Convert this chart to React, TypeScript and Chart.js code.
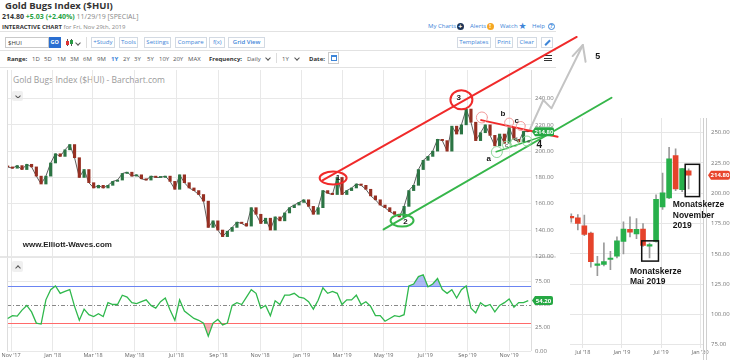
import React, { useEffect, useRef } from 'react';
import { Chart, registerables } from 'chart.js';

Chart.register(...registerables);

// ---------------- data: Gold Bugs Index, daily chart read at weekly steps ----------------
const weekEnding = [
  '2017-10-27','2017-11-03','2017-11-10','2017-11-17','2017-11-24','2017-12-01','2017-12-08','2017-12-15','2017-12-22','2017-12-29',
  '2018-01-05','2018-01-12','2018-01-19','2018-01-26','2018-02-02','2018-02-09','2018-02-16','2018-02-23','2018-03-02','2018-03-09',
  '2018-03-16','2018-03-23','2018-03-30','2018-04-06','2018-04-13','2018-04-20','2018-04-27','2018-05-04','2018-05-11','2018-05-18',
  '2018-05-25','2018-06-01','2018-06-08','2018-06-15','2018-06-22','2018-06-29','2018-07-06','2018-07-13','2018-07-20','2018-07-27',
  '2018-08-03','2018-08-10','2018-08-17','2018-08-24','2018-08-31','2018-09-07','2018-09-14','2018-09-21','2018-09-28','2018-10-05',
  '2018-10-12','2018-10-19','2018-10-26','2018-11-02','2018-11-09','2018-11-16','2018-11-23','2018-11-30','2018-12-07','2018-12-14',
  '2018-12-21','2018-12-28','2019-01-04','2019-01-11','2019-01-18','2019-01-25','2019-02-01','2019-02-08','2019-02-15','2019-02-22',
  '2019-03-01','2019-03-08','2019-03-15','2019-03-22','2019-03-29','2019-04-05','2019-04-12','2019-04-19','2019-04-26','2019-05-03',
  '2019-05-10','2019-05-17','2019-05-24','2019-05-31','2019-06-07','2019-06-14','2019-06-21','2019-06-28','2019-07-05','2019-07-12',
  '2019-07-19','2019-07-26','2019-08-02','2019-08-09','2019-08-16','2019-08-23','2019-08-30','2019-09-06','2019-09-13','2019-09-20',
  '2019-09-27','2019-10-04','2019-10-11','2019-10-18','2019-10-25','2019-11-01','2019-11-08','2019-11-15','2019-11-22','2019-11-29',
];
const firstOpen = 188.5;
const closes = [
  188, 187, 189, 186, 190, 188, 181, 175, 181, 191,
  198, 196, 201, 205, 195, 180, 186, 176, 172, 174,
  172, 174, 177, 178, 183, 184, 181, 182, 179, 178,
  181, 180, 180, 181, 177, 171, 182, 176, 172, 170,
  167, 162, 142, 147, 140, 135, 139, 142, 146, 145,
  143, 157, 152, 145, 149, 140, 150, 147, 153, 157,
  159, 161, 163, 158, 152, 157, 170, 168, 167, 180,
  167, 170, 172, 175, 174, 171, 166, 163, 159, 157,
  154, 152, 150, 158, 170, 174, 186, 193, 196, 200,
  209, 208, 200, 219, 213, 220, 232, 222, 208, 214,
  220, 212, 204, 213, 206, 218, 209, 207, 215, 214.8,
];
const rsi = [
  35, 38, 37.5, 44, 49, 42, 30, 29, 55, 66,
  70, 62, 64, 66, 48, 33, 45, 39, 37, 40,
  37, 52, 50, 50, 60, 58, 52, 51, 53, 55,
  49, 46, 53, 57, 44, 33, 55, 43, 39, 35,
  33, 30, 16, 30, 34, 28, 30, 49, 52, 50,
  58, 66, 62, 46, 49, 38, 54, 50, 60, 60,
  62, 58, 57, 53, 45, 54.6, 68, 62, 64, 62,
  50, 55, 55, 60, 50, 53, 48, 38, 38, 32,
  35, 38, 37, 39, 70, 72, 80, 82, 69, 72,
  78, 66, 62, 66, 57, 66, 70, 46, 41, 52,
  48, 50, 42, 49, 52, 56, 47, 52, 52, 54.2,
];
const lastPrice = 214.8;
const lastRsi = 54.2;
const rsiOverbought = 70;
const rsiMid = 50;
const rsiOversold = 30;

const monthTickDates = ['2017-11-01','2018-01-01','2018-03-01','2018-05-01','2018-07-01','2018-09-01','2018-11-01','2019-01-01','2019-03-01','2019-05-01','2019-07-01','2019-09-01','2019-11-01'];
const monthTickLabels = ["Nov '17","Jan '18","Mar '18","May '18","Jul '18","Sep '18","Nov '18","Jan '19","Mar '19","May '19","Jul '19","Sep '19","Nov '19"];
const priceTicks = [120, 140, 160, 180, 200, 220, 240];
const rsiTicks = [0, 25, 50, 75];
const xRange = ['2017-10-26', '2019-12-03'];
const priceRange = [119.5, 261.7];

// ---------------- monthly inset ----------------
const months = ['2018-05','2018-06','2018-07','2018-08','2018-09','2018-10','2018-11','2018-12','2019-01','2019-02','2019-03','2019-04','2019-05','2019-06','2019-07','2019-08','2019-09','2019-10','2019-11'];
const mOpen  = [181, 179.7, 173, 167, 140.5, 141.3, 145.3, 148, 160.2, 170.2, 166.4, 170.5, 156.4, 160.2, 188.6, 196, 231, 203, 218.4];
const mClose = [179.5, 175, 166, 143.5, 141.5, 143.5, 146, 160.7, 170.5, 167.8, 170.2, 157, 157.5, 195, 200.2, 228.4, 203.5, 220.2, 214.8];
const mHigh  = [183, 182.4, 182, 168, 148, 159, 152, 164, 176.4, 180.5, 179, 175, 158.8, 198.6, 216.5, 237.8, 236.5, 220.5, 220];
const mLow   = [176, 169.7, 165, 139, 132, 140, 137, 146.7, 150, 164, 162.4, 156, 146.7, 159.5, 186.7, 195.5, 202, 201.3, 203.5];
const insetTickDates = ['2018-07-01','2019-01-01','2019-07-01','2020-01-01'];
const insetTickLabels = ["Jul '18","Jan '19","Jul '19","Jan '20"];
const insetPriceTicks = [75, 100, 125, 150, 175, 200, 225, 250];
const insetXRange = ['2018-05-02', '2020-01-14'];
const insetPriceRange = [72, 262];

// ---------------- Elliott wave annotations (data coordinates) ----------------
const redChannel = [['2019-02-01', 178], ['2020-02-08', 286.8]];
const greenChannel = [['2019-05-01', 140.5], ['2020-03-30', 240.6]];
const redTriangle = [['2019-09-21', 223.6], ['2020-01-11', 211]];
const greenTriangle = [['2019-10-13', 199.5], ['2020-01-02', 213.5]];
const forecastPath = [['2019-12-01', 216], ['2019-12-21', 238.9], ['2020-01-02', 232.5], ['2020-02-17', 280.7]];
const forecastHead = [['2020-02-02', 272.3], ['2020-02-17', 280.7], ['2020-02-21', 268]];
const waveRings = [['2019-02-16', 179.5], ['2019-08-23', 239.1], ['2019-05-28', 147.2]];
const smallRedRings = [['2019-09-22', 225.6], ['2019-11-01', 221.7], ['2019-11-18', 219.1]];
const smallGreenRings = [['2019-10-14', 199.3], ['2019-10-28', 204.6], ['2019-11-09', 206.5], ['2019-11-27', 207.7]];
const waveText = ['1', '2', '3', 'a', 'b', 'c', '4', '5'];
const waveTextAt = [['2019-02-23', 179.5], ['2019-06-02', 146.1], ['2019-08-19', 240.4], ['2019-10-02', 194], ['2019-10-23', 228.2], ['2019-11-12', 222.9], ['2019-12-15', 204.6], ['2020-03-10', 271.6]];
const minorText = ['c', 'd', 'e'];
const minorTextAt = [['2019-10-28', 204.6], ['2019-11-11', 209.2], ['2019-11-30', 207.7]];
const watermark = 'www.Elliott-Waves.com';
const watermarkAt = ['2017-11-18', 128.6];
const insetBoxes = [[['2019-04-02', 160.7], ['2019-06-19', 144]], [['2019-10-22', 223.8], ['2019-12-28', 197.2]]];
const insetNotes = [['Monatskerze', 'Mai 2019'], ['Monatskerze', 'November', '2019']];
const insetNotesAt = [[['2019-02-08', 135.6], ['2019-02-08', 127.4]], [['2019-08-25', 190.5], ['2019-08-25', 181.3], ['2019-08-25', 173.2]]];

// ---------------- helpers ----------------
const toDay = (s: string) => {
  const [y, m, d] = s.split('-').map(Number);
  return Math.round((Date.UTC(y, m - 1, d || 1) - Date.UTC(2017, 9, 1)) / 86400000);
};
const toMonth = (s: string) => {
  const [y, m, d] = s.split('-').map(Number);
  return (y - 2018) * 12 + (m - 1) + ((d || 1) - 1) / 30;
};

const F = '"Open Sans", "DejaVu Sans", sans-serif';
const A = '"Liberation Sans", Arial, sans-serif';
const BLUE = '#3d85d8';

function tag(ctx: CanvasRenderingContext2D, x: number, y: number, w: number, h: number, bg: string, text: string) {
  ctx.save();
  ctx.fillStyle = bg;
  ctx.beginPath();
  ctx.moveTo(x + 3, y - h / 2);
  ctx.lineTo(x + w - 2, y - h / 2);
  ctx.quadraticCurveTo(x + w, y - h / 2, x + w, y - h / 2 + 2);
  ctx.lineTo(x + w, y + h / 2 - 2);
  ctx.quadraticCurveTo(x + w, y + h / 2, x + w - 2, y + h / 2);
  ctx.lineTo(x + 3, y + h / 2);
  ctx.lineTo(x, y);
  ctx.closePath();
  ctx.fill();
  ctx.fillStyle = '#fff';
  ctx.font = `bold 6px ${F}`;
  ctx.textAlign = 'center';
  ctx.textBaseline = 'middle';
  ctx.fillText(text, x + w / 2 + 1, y + 0.5);
  ctx.restore();
}

const mainOverlay = {
  id: 'mainOverlay',
  afterDatasetsDraw(chart: any) {
    const { ctx, chartArea: a, scales } = chart;
    const X = (d: string) => scales.x.getPixelForValue(toDay(d));
    const Y = (p: number) => scales.y.getPixelForValue(p);
    ctx.save();
    ctx.strokeStyle = '#dddddd';
    ctx.lineWidth = 1;
    ctx.beginPath();
    ctx.moveTo(a.left + 0.5, a.top); ctx.lineTo(a.left + 0.5, a.bottom);
    ctx.moveTo(a.right + 0.5, a.top); ctx.lineTo(a.right + 0.5, a.bottom);
    ctx.stroke();

    const poly = (pts: any[], color: string, w: number) => {
      ctx.strokeStyle = color; ctx.lineWidth = w; ctx.lineJoin = 'round'; ctx.lineCap = 'round';
      ctx.beginPath();
      pts.forEach(([d, p]: any, k: number) => (k ? ctx.lineTo(X(d), Y(p)) : ctx.moveTo(X(d), Y(p))));
      ctx.stroke();
    };
    poly(forecastPath, '#c4c4c4', 2);
    poly(forecastHead, '#c4c4c4', 2);
    poly(redChannel, '#f02a2a', 2);
    poly(greenChannel, '#36b64a', 2);
    poly(redTriangle, '#f02a2a', 2);
    poly(greenTriangle, '#36b64a', 1.5);

    const ringSize = [[13.5, 6.5], [11, 9.5], [11.5, 6]];
    const ringColor = ['#f02a2a', '#f02a2a', '#36b64a'];
    waveRings.forEach(([d, p]: any, k) => {
      ctx.strokeStyle = ringColor[k]; ctx.lineWidth = 2;
      ctx.beginPath();
      ctx.ellipse(X(d), Y(p), ringSize[k][0], ringSize[k][1], 0, 0, Math.PI * 2);
      ctx.stroke();
    });
    const smallR = [5.5, 4.5, 4.5];
    smallRedRings.forEach(([d, p]: any, k) => {
      ctx.strokeStyle = '#f19a9a'; ctx.lineWidth = 1;
      ctx.beginPath(); ctx.arc(X(d), Y(p), smallR[k], 0, Math.PI * 2); ctx.stroke();
    });
    const smallG = [5.5, 4, 4, 5];
    smallGreenRings.forEach(([d, p]: any, k) => {
      ctx.strokeStyle = '#8fd69a'; ctx.lineWidth = 1;
      ctx.beginPath(); ctx.arc(X(d), Y(p), smallG[k], 0, Math.PI * 2); ctx.stroke();
    });

    ctx.fillStyle = '#1a1a1a';
    ctx.textAlign = 'center';
    ctx.textBaseline = 'middle';
    waveText.forEach((t, k) => {
      const [d, p] = waveTextAt[k] as any;
      ctx.font = `bold ${t === '4' ? 10 : t === '5' ? 9 : 8}px ${A}`;
      ctx.fillText(t, X(d), Y(p));
    });
    ctx.font = `6px ${A}`;
    ctx.fillStyle = '#333';
    minorText.forEach((t, k) => {
      const [d, p] = minorTextAt[k] as any;
      ctx.fillText(t, X(d), Y(p));
    });
    ctx.font = `bold 8px ${A}`;
    ctx.fillStyle = '#1e1e1e';
    ctx.textAlign = 'left';
    ctx.fillText(watermark, X(watermarkAt[0] as string), Y(watermarkAt[1] as number));

    tag(ctx, a.right + 1, Y(lastPrice), 22, 9, '#27a844', lastPrice.toFixed(2));
    ctx.restore();
  },
};

const rsiOverlay = {
  id: 'rsiOverlay',
  beforeDatasetsDraw(chart: any) {
    const { ctx, chartArea: a, scales } = chart;
    const Y = (v: number) => Math.round(scales.y.getPixelForValue(v)) + 0.5;
    ctx.save();
    ctx.lineWidth = 1;
    ctx.strokeStyle = '#6b84f2';
    ctx.beginPath(); ctx.moveTo(a.left, Y(rsiOverbought)); ctx.lineTo(a.right, Y(rsiOverbought)); ctx.stroke();
    ctx.strokeStyle = '#ff6a6a';
    ctx.beginPath(); ctx.moveTo(a.left, Y(rsiOversold)); ctx.lineTo(a.right, Y(rsiOversold)); ctx.stroke();
    ctx.strokeStyle = '#888';
    ctx.setLineDash([4, 2, 1, 2]);
    ctx.beginPath(); ctx.moveTo(a.left, Y(rsiMid)); ctx.lineTo(a.right, Y(rsiMid)); ctx.stroke();
    ctx.setLineDash([]);
    ctx.strokeStyle = '#dddddd';
    ctx.beginPath();
    ctx.moveTo(a.left + 0.5, a.top); ctx.lineTo(a.left + 0.5, a.bottom);
    ctx.moveTo(a.right + 0.5, a.top); ctx.lineTo(a.right + 0.5, a.bottom);
    ctx.stroke();
    ctx.restore();
  },
  afterDatasetsDraw(chart: any) {
    const { ctx, chartArea: a, scales } = chart;
    tag(ctx, a.right + 1, scales.y.getPixelForValue(lastRsi), 21, 9, '#27a844', lastRsi.toFixed(2));
  },
};

const insetOverlay = {
  id: 'insetOverlay',
  afterDatasetsDraw(chart: any) {
    const { ctx, chartArea: a, scales } = chart;
    const X = (d: string) => scales.x.getPixelForValue(toMonth(d));
    const Y = (p: number) => scales.y.getPixelForValue(p);
    ctx.save();
    ctx.strokeStyle = '#cfcfcf';
    ctx.lineWidth = 1;
    ctx.beginPath();
    ctx.moveTo(a.right + 0.5, a.top); ctx.lineTo(a.right + 0.5, 360);
    ctx.moveTo(a.right + 3.5, a.top); ctx.lineTo(a.right + 3.5, 360);
    ctx.stroke();
    ctx.strokeStyle = '#111';
    ctx.lineWidth = 1.5;
    insetBoxes.forEach(([[d1, p1], [d2, p2]]: any) => {
      ctx.strokeRect(X(d1), Y(p1), X(d2) - X(d1), Y(p2) - Y(p1));
    });
    ctx.fillStyle = '#151515';
    ctx.font = `bold 8.5px ${A}`;
    ctx.textAlign = 'left';
    ctx.textBaseline = 'middle';
    insetNotes.forEach((lines, k) => {
      lines.forEach((t, j) => {
        const [d, p] = insetNotesAt[k][j] as any;
        ctx.fillText(t, X(d), Y(p));
      });
    });
    tag(ctx, a.right + 5, Y(lastPrice), 22, 9, '#e8452c', lastPrice.toFixed(2));
    ctx.restore();
  },
};

function T({ x, base, size, children, color = '#333', weight = 400, family = F }: any) {
  return (
    <div style={{ position: 'absolute', left: x, top: base - 0.888 * size, fontFamily: family, fontSize: size, lineHeight: `${size}px`, fontWeight: weight, color, whiteSpace: 'nowrap' }}>
      {children}
    </div>
  );
}
function HLine({ y, x0 = 0, x1 = 556, color = '#e2e2e2', h = 1 }: any) {
  return <div style={{ position: 'absolute', left: x0, top: y, width: x1 - x0, height: h, background: color }} />;
}
function Chevron({ x, y, up = false, color = '#555' }: any) {
  return <div style={{ position: 'absolute', left: x, top: y, width: 3, height: 3, borderRight: `1px solid ${color}`, borderBottom: `1px solid ${color}`, transform: `rotate(${up ? -135 : 45}deg)` }} />;
}
function Btn({ x0, x1, label, weight = 400 }: any) {
  return (
    <div style={{ position: 'absolute', left: x0, top: 36.5, width: x1 - x0, height: 11.5, boxSizing: 'border-box', border: '1px solid #d3dae3', background: '#fff', display: 'flex', alignItems: 'center', justifyContent: 'center', fontFamily: F, fontSize: 6, fontWeight: weight, color: BLUE, whiteSpace: 'nowrap' }}>
      {label}
    </div>
  );
}

const buttons = [['+Study', 90.7, 115], ['Tools', 119, 138], ['Settings', 143.7, 171.3], ['Compare', 174.7, 206.7], ['f(x)', 209.3, 225.3], ['Grid View', 228.3, 265], ['Templates', 456.7, 490.7], ['Print', 494.7, 513.3], ['Clear', 516.7, 536.7]];
const ranges = [['1D', 32], ['5D', 44], ['1M', 57], ['3M', 70], ['6M', 83], ['9M', 97], ['1Y', 111], ['2Y', 123], ['3Y', 134], ['5Y', 147], ['10Y', 159], ['20Y', 173], ['MAX', 188]];

export default function App() {
  const priceRef = useRef<HTMLCanvasElement>(null);
  const rsiRef = useRef<HTMLCanvasElement>(null);
  const insetRef = useRef<HTMLCanvasElement>(null);

  useEffect(() => {
    const days = weekEnding.map(toDay);
    const opens = closes.map((c, i) => (i === 0 ? firstOpen : closes[i - 1]));
    const tickDays = monthTickDates.map(toDay);
    const tickFont = { size: 6, family: F };

    const priceChart = new Chart(priceRef.current as HTMLCanvasElement, {
      type: 'bar',
      data: {
        datasets: [
          {
            data: days.map((d, i) => ({ x: d, y: [opens[i], closes[i]] })) as any,
            backgroundColor: closes.map((c, i) => (c >= opens[i] ? '#2b7443' : '#962f22')),
            barThickness: 2.5,
            minBarLength: 1,
            grouped: false,
            order: 1,
          } as any,
          {
            type: 'line',
            data: days.map((d, i) => ({ x: d, y: closes[i] })),
            borderColor: 'rgba(40,40,40,0.75)',
            borderWidth: 1,
            pointRadius: 0,
            tension: 0,
            order: 2,
          } as any,
        ],
      },
      options: {
        animation: false,
        responsive: false,
        devicePixelRatio: 1,
        layout: { padding: { left: 7, top: 70, right: 172, bottom: 103 } },
        plugins: { legend: { display: false }, tooltip: { enabled: false } },
        scales: {
          x: {
            type: 'linear', min: toDay(xRange[0]), max: toDay(xRange[1]), offset: false,
            grid: { color: '#e8e8e8', offset: false, drawTicks: false }, border: { display: false },
            ticks: { display: false },
            afterBuildTicks: (s: any) => { s.ticks = tickDays.map((v) => ({ value: v })); },
            afterFit: (s: any) => { s.height = 0; },
          },
          y: {
            position: 'right', min: priceRange[0], max: priceRange[1],
            grid: { color: '#e8e8e8', drawTicks: false }, border: { display: false },
            ticks: { color: '#777', font: tickFont, padding: 4, callback: (v: any) => Number(v).toFixed(2) },
            afterBuildTicks: (s: any) => { s.ticks = priceTicks.map((v) => ({ value: v })); },
            afterFit: (s: any) => { s.width = 28; },
          },
        } as any,
      },
      plugins: [mainOverlay],
    });

    const rsiPts = days.map((d, i) => ({ x: d, y: rsi[i] }));
    const rsiChart = new Chart(rsiRef.current as HTMLCanvasElement, {
      type: 'line',
      data: {
        datasets: [
          {
            data: rsiPts, borderColor: '#2fb84c', borderWidth: 1.3, pointRadius: 0, tension: 0,
            fill: { target: { value: rsiOverbought }, above: 'rgba(120,142,238,0.6)', below: 'rgba(0,0,0,0)' },
            order: 1,
          } as any,
          {
            data: rsiPts, borderColor: 'rgba(0,0,0,0)', borderWidth: 0, pointRadius: 0, tension: 0,
            fill: { target: { value: rsiOversold }, above: 'rgba(0,0,0,0)', below: 'rgba(240,110,120,0.55)' },
            order: 2,
          } as any,
        ],
      },
      options: {
        animation: false,
        responsive: false,
        devicePixelRatio: 1,
        layout: { padding: { left: 7, top: 258, right: 172, bottom: 0 } },
        plugins: { legend: { display: false }, tooltip: { enabled: false } },
        scales: {
          x: {
            type: 'linear', min: toDay(xRange[0]), max: toDay(xRange[1]),
            grid: { color: '#e8e8e8', drawTicks: false }, border: { display: false },
            ticks: { color: '#666', font: { size: 5.5, family: F }, padding: 1, autoSkip: false, maxRotation: 0, minRotation: 0, callback: (v: any, i: number) => monthTickLabels[i] },
            afterBuildTicks: (s: any) => { s.ticks = tickDays.map((v) => ({ value: v })); },
            afterFit: (s: any) => { s.height = 9; },
          },
          y: {
            position: 'right', min: 0, max: 100,
            grid: { color: (c: any) => (c.tick && c.tick.value === rsiMid ? 'rgba(0,0,0,0)' : '#e8e8e8'), drawTicks: false }, border: { display: false },
            ticks: { color: '#777', font: tickFont, padding: 4, callback: (v: any) => Number(v).toFixed(2) },
            afterBuildTicks: (s: any) => { s.ticks = rsiTicks.map((v) => ({ value: v })); },
            afterFit: (s: any) => { s.width = 28; },
          },
        } as any,
      },
      plugins: [rsiOverlay],
    });

    const mPos = months.map((m) => toMonth(m + '-08'));
    const insetTicks = insetTickDates.map(toMonth);
    const insetChart = new Chart(insetRef.current as HTMLCanvasElement, {
      type: 'bar',
      data: {
        datasets: [
          {
            data: mPos.map((x, i) => ({ x, y: [mOpen[i], mClose[i]] })) as any,
            backgroundColor: mClose.map((c, i) => (c >= mOpen[i] ? '#27b04b' : '#e5432b')),
            barThickness: 5, minBarLength: 1.5, grouped: false, order: 1,
          } as any,
          {
            data: mPos.map((x, i) => ({ x, y: [mLow[i], mHigh[i]] })) as any,
            backgroundColor: '#9a9a9a',
            barThickness: 1, grouped: false, order: 2,
          } as any,
        ],
      },
      options: {
        animation: false,
        responsive: false,
        devicePixelRatio: 1,
        layout: { padding: { left: 570, top: 118, right: 0, bottom: 0 } },
        plugins: { legend: { display: false }, tooltip: { enabled: false } },
        scales: {
          x: {
            type: 'linear', min: toMonth(insetXRange[0]), max: toMonth(insetXRange[1]), offset: false,
            grid: { color: '#e6e6e6', offset: false, drawTicks: false }, border: { display: false },
            ticks: { color: '#666', font: { size: 5.5, family: F }, padding: 1, autoSkip: false, maxRotation: 0, minRotation: 0, callback: (v: any, i: number) => insetTickLabels[i] },
            afterBuildTicks: (s: any) => { s.ticks = insetTicks.map((v) => ({ value: v })); },
            afterFit: (s: any) => { s.height = 8; },
          },
          y: {
            position: 'right', min: insetPriceRange[0], max: insetPriceRange[1],
            grid: { color: '#e6e6e6', drawTicks: false }, border: { display: false },
            ticks: { color: '#777', font: tickFont, padding: 8, callback: (v: any) => Number(v).toFixed(2) },
            afterBuildTicks: (s: any) => { s.ticks = insetPriceTicks.map((v) => ({ value: v })); },
            afterFit: (s: any) => { s.width = 28; },
          },
        } as any,
      },
      plugins: [insetOverlay],
    });

    return () => {
      priceChart.destroy();
      rsiChart.destroy();
      insetChart.destroy();
    };
  }, []);

  const canvasStyle: React.CSSProperties = { position: 'absolute', left: 0, top: 0, width: 731, height: 360 };

  return (
    <div style={{ position: 'fixed', left: 0, top: 0, width: 731, height: 360, overflow: 'hidden', background: '#fff' }}>
      {/* header */}
      <T x={5} base={9.3} size={9.5} weight={700}>Gold Bugs Index ($HUI)</T>
      <T x={2} base={19.3} size={7}>
        <b style={{ color: '#333' }}>214.80</b>{' '}
        <b style={{ color: '#25a244' }}>+5.03 (+2.40%)</b>{' '}
        <span style={{ color: '#888' }}>11/29/19 [SPECIAL]</span>
      </T>
      <T x={2} base={29} size={6}>
        <b style={{ color: '#333' }}>INTERACTIVE CHART</b>{' '}
        <span style={{ color: '#888' }}>for Fri, Nov 29th, 2019</span>
      </T>
      <T x={428} base={28.5} size={6} color={BLUE}>My Charts</T>
      <div style={{ position: 'absolute', left: 456.7, top: 22.8, width: 7, height: 7, borderRadius: 4, background: '#1d3557', color: '#fff', fontSize: 7, lineHeight: '7px', textAlign: 'center', fontFamily: F, fontWeight: 700 }}>+</div>
      <T x={470} base={28.5} size={6} color={BLUE}>Alerts</T>
      <div style={{ position: 'absolute', left: 486.7, top: 22.8, width: 7, height: 7, borderRadius: 4, background: '#f5a623', color: '#fff', fontSize: 6, lineHeight: '7px', textAlign: 'center', fontFamily: F, fontWeight: 700 }}>!</div>
      <T x={500} base={28.5} size={6} color={BLUE}>Watch</T>
      <T x={518.5} base={29.5} size={9} color={BLUE} family='"DejaVu Sans"'>★</T>
      <T x={532} base={28.5} size={6} color={BLUE}>Help</T>
      <div style={{ position: 'absolute', left: 547.7, top: 22.8, width: 7, height: 7, boxSizing: 'border-box', borderRadius: 4, border: `1px solid ${BLUE}`, color: BLUE, fontSize: 5.5, lineHeight: '5px', textAlign: 'center', fontFamily: F, fontWeight: 700 }}>?</div>
      <HLine y={31} />

      {/* controls row */}
      <div style={{ position: 'absolute', left: 5, top: 36.5, width: 44, height: 11.5, boxSizing: 'border-box', border: '1px solid #c9c9c9', background: '#fff' }} />
      <T x={8} base={45} size={6} color="#333">$HUI</T>
      <div style={{ position: 'absolute', left: 49, top: 36.5, width: 11.5, height: 11.5, background: '#2b6fd1', color: '#fff', fontFamily: F, fontSize: 5.5, fontWeight: 700, lineHeight: '11.5px', textAlign: 'center' }}>GO</div>
      <div style={{ position: 'absolute', left: 66.5, top: 39, width: 1, height: 7, background: '#555' }} />
      <div style={{ position: 'absolute', left: 65.5, top: 40.5, width: 3, height: 4, background: '#d33' }} />
      <div style={{ position: 'absolute', left: 70.5, top: 38.5, width: 1, height: 7, background: '#555' }} />
      <div style={{ position: 'absolute', left: 69.5, top: 39.5, width: 3, height: 4.5, background: '#2a9a45' }} />
      <Chevron x={76} y={40.5} />
      <div style={{ position: 'absolute', left: 86, top: 37, width: 1, height: 11, background: '#ddd' }} />
      {buttons.map(([l, a, b]) => (
        <Btn key={l as string} x0={a} x1={b} label={l} weight={l === 'Grid View' ? 600 : 400} />
      ))}
      <div style={{ position: 'absolute', left: 541, top: 36.5, width: 12.3, height: 11.5, boxSizing: 'border-box', border: '1px solid #d3dae3', background: '#fff' }} />
      <div style={{ position: 'absolute', left: 544, top: 41.5, width: 6.5, height: 1.5, background: BLUE, transform: 'rotate(-45deg)' }} />
      <HLine y={50} />

      {/* range row */}
      <T x={7} base={61} size={6} weight={700}>Range:</T>
      {ranges.map(([l, x]) => (
        <T key={l as string} x={x} base={61} size={6} color={l === '1Y' ? BLUE : '#555'} weight={l === '1Y' ? 700 : 400}>{l}</T>
      ))}
      <T x={209} base={61} size={6} weight={700}>Frequency:</T>
      <T x={247} base={61} size={6} color="#555">Daily</T>
      <Chevron x={266} y={56} />
      <div style={{ position: 'absolute', left: 276, top: 53, width: 1, height: 10, background: '#ddd' }} />
      <T x={282} base={61} size={6} color="#555">1Y</T>
      <Chevron x={295} y={56} />
      <T x={309} base={61} size={6} weight={700}>Date:</T>
      <div style={{ position: 'absolute', left: 328, top: 52, width: 11, height: 12, boxSizing: 'border-box', border: '1px solid #ccc', background: '#fff' }} />
      <div style={{ position: 'absolute', left: 330.5, top: 54.5, width: 6, height: 6, boxSizing: 'border-box', border: `1px solid ${BLUE}`, borderTop: `2px solid ${BLUE}` }} />
      <div style={{ position: 'absolute', left: 544, top: 55, width: 8, height: 1.3, background: '#333' }} />
      <div style={{ position: 'absolute', left: 544, top: 57.5, width: 8, height: 1.3, background: '#333' }} />
      <div style={{ position: 'absolute', left: 544, top: 60, width: 8, height: 1.3, background: '#333' }} />
      <HLine y={67} />

      {/* chart panel decorations */}
      <T x={13} base={83.3} size={8.5} color="#9a9a9a">Gold Bugs Index ($HUI) - Barchart.com</T>
      <div style={{ position: 'absolute', left: 11.7, top: 90.7, width: 11, height: 10, borderRadius: 2, background: '#f0f0f0' }} />
      <Chevron x={15.7} y={93.5} />
      <HLine y={256} h={2} color="#e6e6e6" />
      <div style={{ position: 'absolute', left: 11.7, top: 260.7, width: 11.5, height: 11, borderRadius: 2, background: '#f0f0f0' }} />
      <Chevron x={15.9} y={265.5} up />

      <canvas ref={rsiRef} width={731} height={360} style={canvasStyle} />
      <canvas ref={priceRef} width={731} height={360} style={canvasStyle} />
      <canvas ref={insetRef} width={731} height={360} style={canvasStyle} />
    </div>
  );
}
